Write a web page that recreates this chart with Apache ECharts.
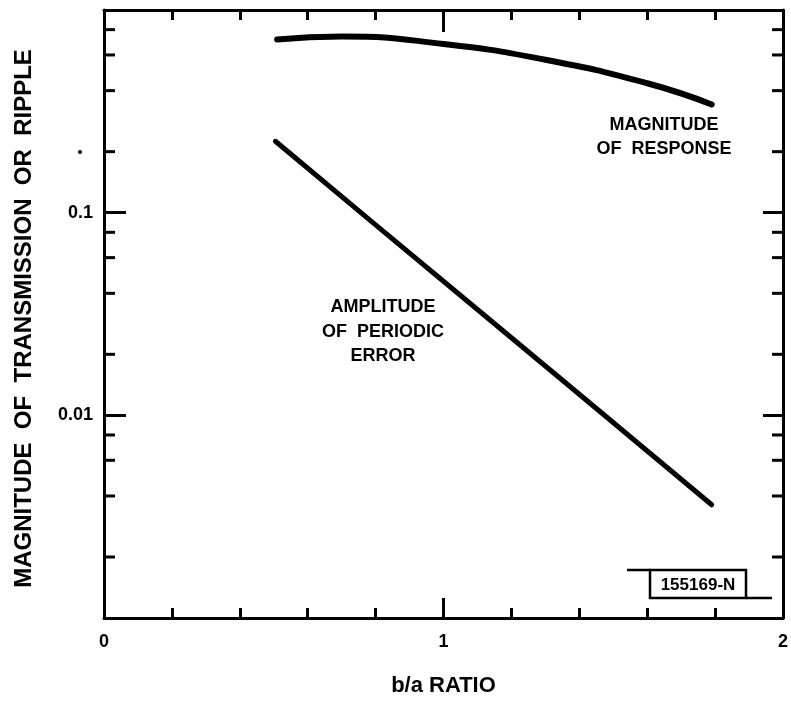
<!DOCTYPE html>
<html>
<head>
<meta charset="utf-8">
<script src="https://cdn.jsdelivr.net/npm/echarts@6/dist/echarts.min.js"></script>
<style>html,body{margin:0;padding:0;background:#fff;}#c{width:791px;height:708px;}</style>
</head>
<body>
<div id="c"></div>
<script>
// Data
const responseX = [0.51, 0.7, 1.0, 1.3, 1.6, 1.79];
const responseY = [0.716, 0.74, 0.68, 0.568, 0.435, 0.342];
const errorX = [0.505, 0.8, 1.1, 1.4, 1.79];
const errorY = [0.225, 0.087, 0.0333, 0.0127, 0.00362];
const yMinorTicks = [0.002, 0.004, 0.006, 0.008, 0.02, 0.04, 0.06, 0.08, 0.2, 0.4, 0.6, 0.8];
const yTickLabels = { '0.1': '0.1', '0.01': '0.01' };
const xTickLabels = ['0', '1', '2'];

const FONT = 'Liberation Sans';
const chart = echarts.init(document.getElementById('c'), null, { renderer: 'canvas' });

function pair(xs, ys) { return xs.map((x, i) => [x, ys[i]]); }

function yLabel(v) {
  for (const k in yTickLabels) {
    if (Math.abs(v - parseFloat(k)) < parseFloat(k) * 1e-6) return yTickLabels[k];
  }
  return '';
}

const axisLineStyle = { color: '#000', width: 3 };
const tickStyle = { color: '#000', width: 3 };
const txt = (s, x, y, size) => ({
  type: 'text',
  style: { text: s, x: x, y: y, align: 'center', verticalAlign: 'middle', font: 'bold ' + size + 'px "Liberation Sans"', fill: '#000' }
});

const option = {
  backgroundColor: '#fff',
  animation: false,
  grid: { left: 104, right: 2, top: 10, bottom: 90, containLabel: false },
  xAxis: [
    {
      type: 'value', min: 0, max: 2, interval: 1, position: 'bottom',
      axisLine: { show: true, onZero: false, lineStyle: axisLineStyle },
      axisTick: { show: true, inside: true, length: 20, lineStyle: tickStyle },
      minorTick: { show: true, splitNumber: 5, length: 10, lineStyle: tickStyle },
      splitLine: { show: false }, minorSplitLine: { show: false },
      axisLabel: {
        show: true, margin: 15, color: '#000', fontFamily: FONT, fontWeight: 'bold', fontSize: 18,
        formatter: (v) => xTickLabels[Math.round(v)] || ''
      },
      name: 'b/a RATIO', nameLocation: 'middle', nameGap: 57,
      nameTextStyle: { color: '#000', fontFamily: FONT, fontWeight: 'bold', fontSize: 22 }
    },
    {
      type: 'value', min: 0, max: 2, interval: 1, position: 'top',
      axisLine: { show: true, onZero: false, lineStyle: axisLineStyle },
      axisTick: { show: true, inside: true, length: 22, lineStyle: tickStyle },
      minorTick: { show: true, splitNumber: 5, length: 10, lineStyle: tickStyle },
      splitLine: { show: false }, minorSplitLine: { show: false },
      axisLabel: { show: false }
    }
  ],
  yAxis: [
    {
      type: 'log', logBase: 10, min: 0.001, max: 1, interval: 1, position: 'left',
      axisLine: { show: true, onZero: false, lineStyle: axisLineStyle },
      axisTick: { show: true, inside: true, length: 22, lineStyle: tickStyle },
      splitLine: { show: false },
      axisLabel: {
        show: true, margin: 11, color: '#000', fontFamily: FONT, fontWeight: 'bold', fontSize: 18,
        formatter: yLabel
      },
      name: 'MAGNITUDE  OF  TRANSMISSION  OR  RIPPLE', nameLocation: 'middle', nameGap: 68, nameRotate: 90,
      nameTextStyle: { color: '#000', fontFamily: FONT, fontWeight: 'bold', fontSize: 24, padding: [0, 9, 0, 0] }
    },
    {
      type: 'log', logBase: 10, min: 0.001, max: 1, interval: 1, position: 'right',
      axisLine: { show: true, onZero: false, lineStyle: axisLineStyle },
      axisTick: { show: true, inside: true, length: 20, lineStyle: tickStyle },
      splitLine: { show: false },
      axisLabel: { show: false }
    }
  ],
  series: [
    {
      name: 'Magnitude of response', type: 'line', xAxisIndex: 0, yAxisIndex: 0,
      data: pair(responseX, responseY), smooth: 0.5, showSymbol: false, symbol: 'none',
      lineStyle: { color: '#000', width: 6, cap: 'round', join: 'round' }, clip: false
    },
    {
      name: 'Amplitude of periodic error', type: 'line', xAxisIndex: 0, yAxisIndex: 0,
      data: pair(errorX, errorY), smooth: false, showSymbol: false, symbol: 'none',
      lineStyle: { color: '#000', width: 5, cap: 'round', join: 'round' }, clip: false
    },
    {
      name: 'minorTicksY', type: 'custom', xAxisIndex: 0, yAxisIndex: 0, silent: true, clip: false,
      data: yMinorTicks.map(v => [0, v]),
      renderItem: function (params, api) {
        const p = api.coord([api.value(0), api.value(1)]);
        const cs = params.coordSys;
        const st = { stroke: '#000', lineWidth: 3 };
        return {
          type: 'group', children: [
            { type: 'line', shape: { x1: cs.x, y1: p[1], x2: cs.x + 11, y2: p[1] }, style: st },
            { type: 'line', shape: { x1: cs.x + cs.width, y1: p[1], x2: cs.x + cs.width - 11, y2: p[1] }, style: st }
          ]
        };
      }
    }
  ],
  graphic: [
    txt('MAGNITUDE', 664, 125, 18),
    txt('OF  RESPONSE', 664, 149, 18),
    txt('AMPLITUDE', 383, 307, 18),
    txt('OF  PERIODIC', 383, 332, 18),
    txt('ERROR', 383, 356, 18),
    { type: 'rect', shape: { x: 650, y: 570, width: 96, height: 28 }, style: { fill: '#fff', stroke: '#000', lineWidth: 2.5 } },
    { type: 'line', shape: { x1: 627, y1: 570, x2: 650, y2: 570 }, style: { stroke: '#000', lineWidth: 2.5 } },
    { type: 'line', shape: { x1: 746, y1: 598, x2: 772, y2: 598 }, style: { stroke: '#000', lineWidth: 2.5 } },
    txt('155169-N', 698, 585, 17),
    { type: 'circle', shape: { cx: 80, cy: 152, r: 2 }, style: { fill: '#000' } }
  ]
};
chart.setOption(option);
</script>
</body>
</html>
